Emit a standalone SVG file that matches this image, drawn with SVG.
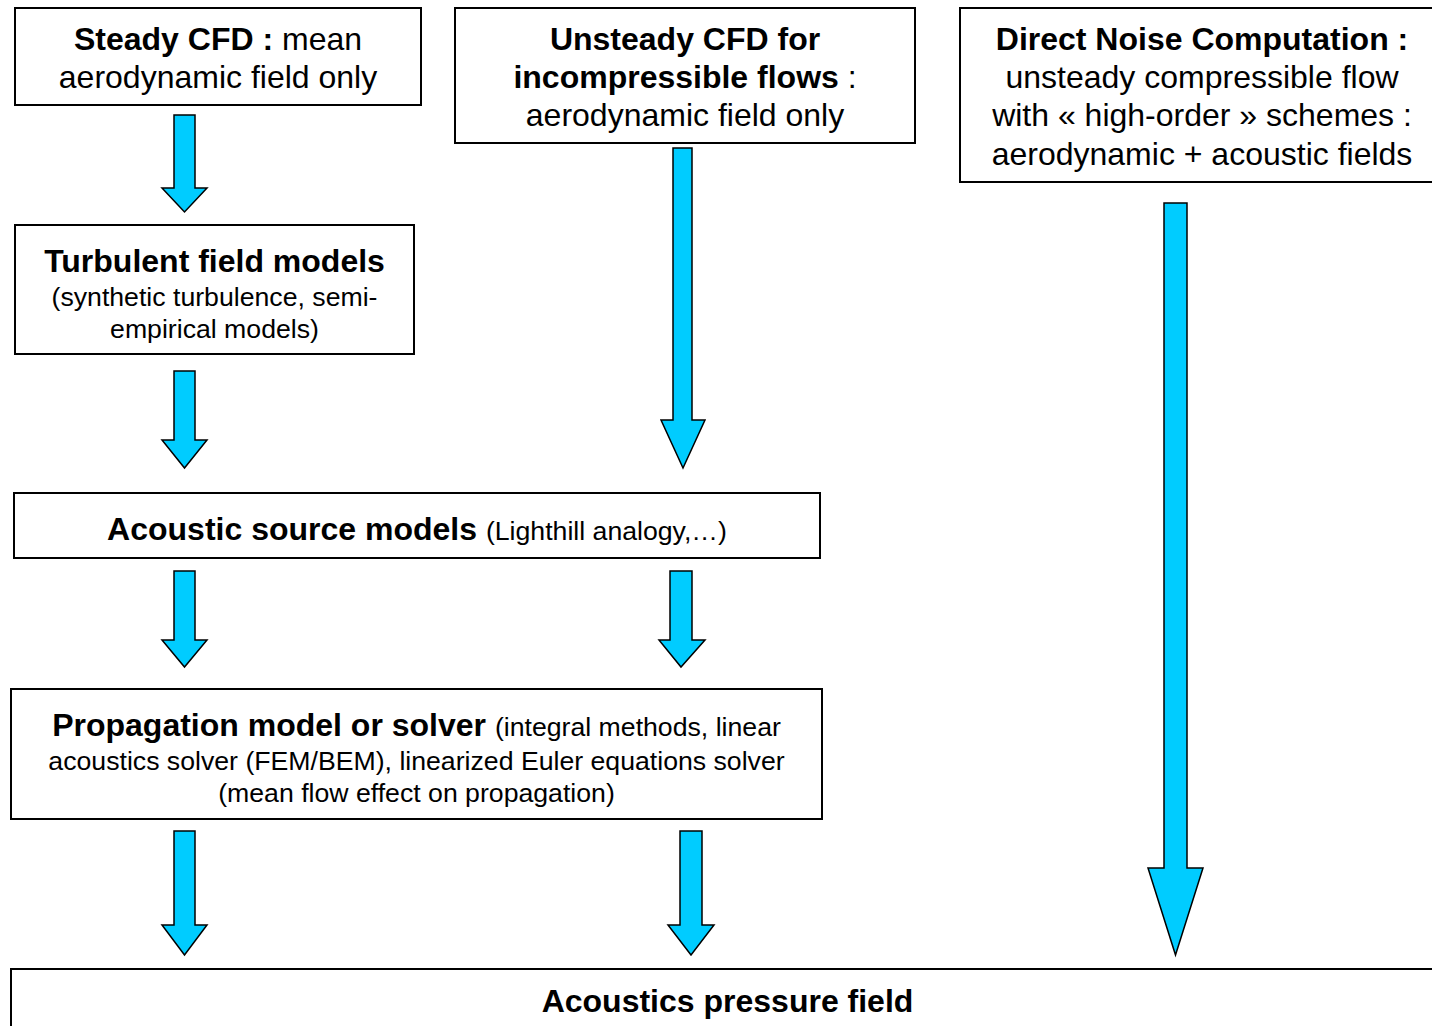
<svg xmlns="http://www.w3.org/2000/svg" width="1432" height="1026" viewBox="0 0 1432 1026">
<style>
.box{fill:#fff;stroke:#000;stroke-width:2}
.arr{fill:#00ccff;stroke:#000;stroke-width:1.5;stroke-linejoin:miter}
text{font-family:"Liberation Sans",Arial,sans-serif;fill:#000;text-anchor:middle}
.l{font-size:32px}
.s{font-size:26.67px}
.b{font-weight:bold}
</style>
<rect width="1432" height="1026" fill="#fff"/>
<g id="connectors">
<path class="arr" d="M174,115 H195 V188 H207 L184.5,212 L162,188 H174 Z"/>
<path class="arr" d="M673,148 H692 V420 H705 L683,468 L661,420 H673 Z"/>
<path class="arr" d="M1164,203 H1187 V868 H1203 L1175.5,955 L1148,868 H1164 Z"/>
<path class="arr" d="M174,371 H195 V440 H207 L184.5,468 L162,440 H174 Z"/>
<path class="arr" d="M174,571 H195 V640 H207 L184.5,667 L162,640 H174 Z"/>
<path class="arr" d="M670,571 H692 V640 H705 L681,667 L659,640 H670 Z"/>
<path class="arr" d="M174,831 H195 V925 H207 L184.5,955 L162,925 H174 Z"/>
<path class="arr" d="M680,831 H702 V925 H714 L691,955 L668,925 H680 Z"/>
</g>
<g id="steady">
<rect class="box" x="15" y="8" width="406" height="97"/>
<text class="l" x="218" y="50"><tspan class="b">Steady CFD :</tspan> mean</text>
<text class="l" x="218" y="88">aerodynamic field only</text>
</g>
<g id="unsteady">
<rect class="box" x="455" y="8" width="460" height="135"/>
<text class="l b" x="685" y="50">Unsteady CFD for</text>
<text class="l" x="685" y="88"><tspan class="b">incompressible flows</tspan> :</text>
<text class="l" x="685" y="126">aerodynamic field only</text>
</g>
<g id="dnc">
<rect class="box" x="960" y="8" width="484" height="174"/>
<text class="l b" x="1202" y="50">Direct Noise Computation :</text>
<text class="l" x="1202" y="88">unsteady compressible flow</text>
<text class="l" x="1202" y="126">with « high-order » schemes :</text>
<text class="l" x="1202" y="165">aerodynamic + acoustic fields</text>
</g>
<g id="turbulent">
<rect class="box" x="15" y="225" width="399" height="129"/>
<text class="l b" x="214.5" y="272">Turbulent field models</text>
<text class="s" x="214.5" y="306">(synthetic turbulence, semi-</text>
<text class="s" x="214.5" y="338">empirical models)</text>
</g>
<g id="source">
<rect class="box" x="14" y="493" width="806" height="65"/>
<text class="l" x="417" y="540"><tspan class="b">Acoustic source models</tspan> <tspan class="s">(Lighthill analogy,…)</tspan></text>
</g>
<g id="propagation">
<rect class="box" x="11" y="689" width="811" height="130"/>
<text class="l" x="416.5" y="736"><tspan class="b">Propagation model or solver</tspan> <tspan class="s">(integral methods, linear</tspan></text>
<text class="s" x="416.5" y="770">acoustics solver (FEM/BEM), linearized Euler equations solver</text>
<text class="s" x="416.5" y="802">(mean flow effect on propagation)</text>
</g>
<g id="pressure">
<rect class="box" x="11" y="969" width="1433" height="80"/>
<text class="l b" x="727.5" y="1012">Acoustics pressure field</text>
</g>
</svg>
